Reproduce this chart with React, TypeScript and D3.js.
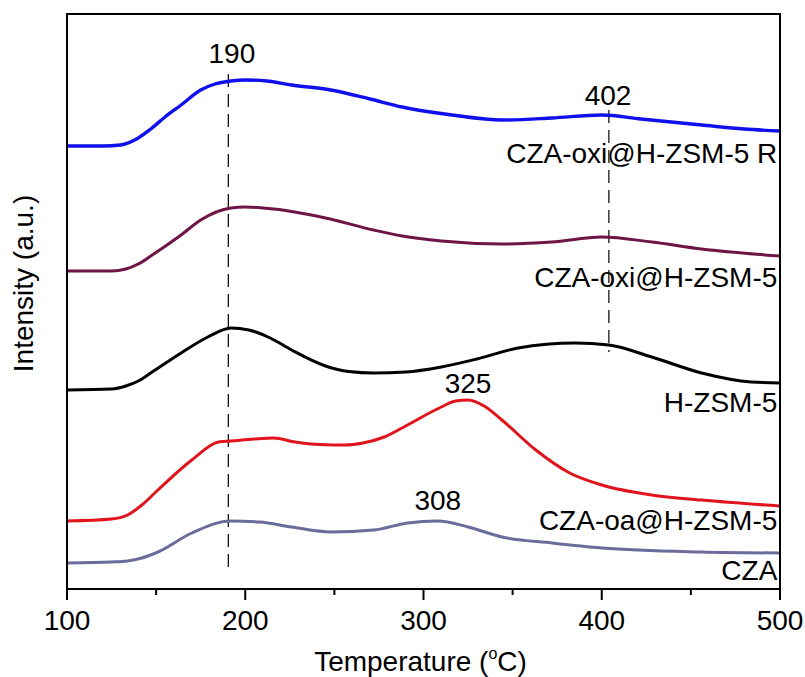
import React from 'react';
import * as d3 from 'd3';

// TPD curves (temperature in °C, intensity in a.u., stacked offsets included)
const czaOxiR: [number, number][] = [
    [100, 4.43], [120, 4.43], [130, 4.44], [140, 4.51], [147, 4.6], [155, 4.72], [164, 4.84],
    [175, 4.99], [183, 5.05], [192, 5.08], [200, 5.09], [212, 5.08], [226, 5.04], [248, 4.99],
    [270, 4.9], [288, 4.82], [316, 4.74], [344, 4.69], [372, 4.71], [400, 4.74], [422, 4.7],
    [456, 4.64], [480, 4.6], [500, 4.58]
];
const czaOxi: [number, number][] = [
    [100, 3.18], [125, 3.18], [133, 3.2], [140, 3.25], [147, 3.33], [164, 3.54], [175, 3.69], [192, 3.81],
    [200, 3.82], [216, 3.8], [245, 3.71], [272, 3.59], [288, 3.53], [310, 3.48], [344, 3.45],
    [372, 3.47], [400, 3.52], [428, 3.47], [456, 3.4], [500, 3.33]
];
const hzsm: [number, number][] = [
    [100, 1.99], [125, 2.0], [133, 2.03], [140, 2.08], [147, 2.16], [164, 2.36], [179, 2.52], [192, 2.61],
    [202, 2.59], [214, 2.51], [226, 2.39], [245, 2.23], [258, 2.175], [272, 2.16], [290, 2.17], [310, 2.22],
    [330, 2.3], [353, 2.41], [385, 2.46], [404, 2.44], [428, 2.32], [456, 2.16], [484, 2.07], [500, 2.06]
];
const czaOa: [number, number][] = [
    [100, 0.68], [125, 0.7], [134, 0.74], [142, 0.84], [151, 0.99], [170, 1.29], [185, 1.47], [192, 1.48],
    [205, 1.5], [216, 1.51], [228, 1.47], [242, 1.445], [256, 1.44], [266, 1.46], [278, 1.52], [291, 1.64],
    [310, 1.82], [318, 1.88], [325, 1.89], [334, 1.83], [344, 1.69], [363, 1.39], [382, 1.16],
    [400, 1.04], [428, 0.94], [456, 0.89], [500, 0.83]
];
const cza: [number, number][] = [
    [100, 0.26], [125, 0.27], [134, 0.28], [142, 0.31], [151, 0.37], [170, 0.56], [192, 0.68], [208, 0.67],
    [226, 0.62], [248, 0.57], [272, 0.59], [291, 0.66], [308, 0.68], [325, 0.62], [344, 0.52],
    [372, 0.46], [400, 0.41], [456, 0.37], [500, 0.36]
];

const seriesNames = ['CZA-oxi@H-ZSM-5 R', 'CZA-oxi@H-ZSM-5', 'H-ZSM-5', 'CZA-oa@H-ZSM-5', 'CZA'];
const seriesData = [czaOxiR, czaOxi, hzsm, czaOa, cza];
const seriesColors = ['#1010ee', '#6e1446', '#000000', '#e0141c', '#6b6b9c'];
const seriesLabelY = [4.26, 3.02, 1.77, 0.59, 0.09];

// peak annotations: [temperature, label y]
const peakLabels: [number, number][] = [[190, 5.26], [402, 4.84], [325, 1.96], [308, 0.79]];
// dashed guides: [temperature, y from, y to]
const guides: [number, number, number][] = [[190.5, 5.15, 0.17], [404, 4.79, 2.37]];

const xTicks = [100, 200, 300, 400, 500];
const xMinor = [150, 250, 350, 450];

const W = 805;
const H = 677;
const margin = { top: 14, right: 25, bottom: 88, left: 67 };
const font = '"Liberation Sans", Arial, sans-serif';
const fs = 28;

export default function App() {
    const x = d3.scaleLinear().domain([100, 500]).range([margin.left, W - margin.right]);
    const y = d3.scaleLinear().domain([0, 5.75]).range([H - margin.bottom, margin.top]);

    const line = d3.line<[number, number]>()
        .x((d) => x(d[0]))
        .y((d) => y(d[1]))
        .curve(d3.curveMonotoneX);

    const x0 = margin.left;
    const x1 = W - margin.right;
    const y0 = margin.top;
    const y1 = H - margin.bottom;

    return (
        <svg width={W} height={H} style={{ position: 'absolute', left: 0, top: 0, background: '#fff' }}
            fontFamily={font}>
            {/* dashed guides */}
            {guides.map((g, i) => (
                <line key={'g' + i} x1={x(g[0])} x2={x(g[0])} y1={y(g[1])} y2={y(g[2])}
                    stroke="#000" strokeWidth={1.2} strokeDasharray="13,7" />
            ))}

            {seriesData.map((d, i) => (
                <path key={seriesNames[i]} d={line(d) || ''} fill="none"
                    stroke={seriesColors[i]} strokeWidth={i === 0 ? 3.4 : 3} />
            ))}

            {seriesNames.map((n, i) => (
                <text key={'l' + n} x={x(498.5)} y={y(seriesLabelY[i])} textAnchor="end"
                    fontSize={fs} fill="#000">{n}</text>
            ))}

            {peakLabels.map((p, i) => (
                <text key={'p' + i} x={x(p[0] + (i === 0 ? 2.5 : i === 1 ? 1.5 : 0))} y={y(p[1])}
                    textAnchor="middle" fontSize={fs} fill="#000">{p[0]}</text>
            ))}

            {/* frame */}
            <rect x={x0} y={y0} width={x1 - x0} height={y1 - y0} fill="none" stroke="#000" strokeWidth={2} />

            {/* x axis ticks */}
            {xTicks.map((t) => (
                <g key={'t' + t}>
                    <line x1={x(t)} x2={x(t)} y1={y1} y2={y1 + 11} stroke="#000" strokeWidth={2} />
                    <text x={x(t)} y={y1 + 41} textAnchor="middle" fontSize={fs} fill="#000">{t}</text>
                </g>
            ))}
            {xMinor.map((t) => (
                <line key={'m' + t} x1={x(t)} x2={x(t)} y1={y1} y2={y1 + 6} stroke="#000" strokeWidth={2} />
            ))}

            <text x={(x0 + x1) / 2 - 3} y={671} textAnchor="middle" fontSize={fs} fill="#000">
                Temperature (<tspan fontSize={16} dy={-12}>o</tspan><tspan dy={12}>C)</tspan>
            </text>

            <text transform={`translate(33, ${(y0 + y1) / 2 - 18}) rotate(-90)`} textAnchor="middle"
                fontSize={fs} fill="#000">Intensity (a.u.)</text>
        </svg>
    );
}
